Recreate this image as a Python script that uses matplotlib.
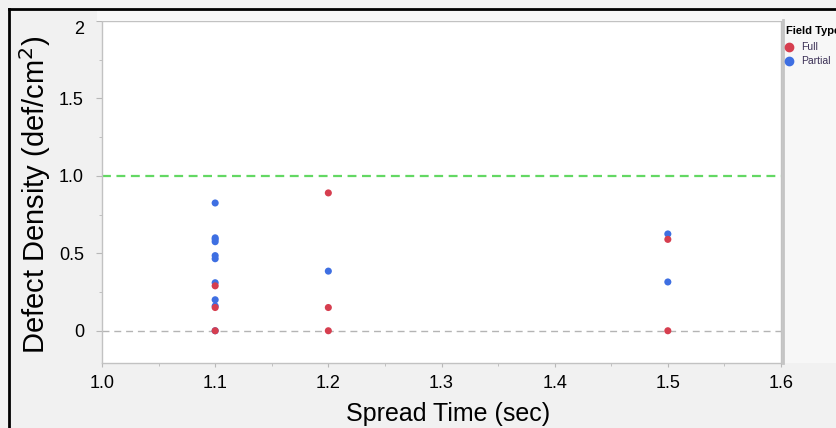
import numpy as np
import matplotlib.pyplot as plt
from matplotlib.patches import Rectangle
from matplotlib.lines import Line2D
from matplotlib.ticker import MultipleLocator

plt.rcParams['font.family'] = ['Liberation Sans', 'DejaVu Sans']

# dados
full_x = [1.1, 1.1, 1.1, 1.2, 1.2, 1.2, 1.5, 1.5]
full_y = [0.29, 0.15, 0.0, 0.89, 0.15, 0.0, 0.59, 0.0]
partial_x = [1.1, 1.1, 1.1, 1.1, 1.1, 1.1, 1.1, 1.1, 1.1, 1.1, 1.2, 1.5, 1.5]
partial_y = [0.825, 0.60, 0.59, 0.575, 0.485, 0.465, 0.31, 0.20, 0.16, 0.0, 0.385, 0.625, 0.315]
xticks = [1.0, 1.1, 1.2, 1.3, 1.4, 1.5, 1.6]
yticks = [0, 0.5, 1.0, 1.5, 2]
ytick_labels = ['0', '0.5', '1.0', '1.5', '2']

red = '#d63e4f'
blue = '#3e6fe2'

fig = plt.figure(figsize=(8.36, 4.28), dpi=100)
fig.patch.set_facecolor('#f1f1f1')

# faixa clara acima do grafico e painel da legenda
fig.patches.append(Rectangle((97/836, 1-21/428), 1, 11/428, transform=fig.transFigure,
                             facecolor='#f8f8f8', edgecolor='none', zorder=0))
fig.patches.append(Rectangle((783/836, 1-363/428), 1, 353/428, transform=fig.transFigure,
                             facecolor='#f7f7f7', edgecolor='none', zorder=0))
# bordas pretas
fig.lines.append(Line2D([9/836, 1], [1-9/428, 1-9/428], transform=fig.transFigure,
                        color='black', lw=2))
fig.lines.append(Line2D([9/836, 9/836], [0, 1-9/428], transform=fig.transFigure,
                        color='black', lw=2))
fig.lines.append(Line2D([783/836, 783/836], [1-363/428, 1-20/428], transform=fig.transFigure,
                        color='#c4c4c4', lw=2))

ax = fig.add_axes([102/836, 1-362.5/428, 679/836, 341.5/428])
ax.set_facecolor('white')

ax.axhline(1.0, color='#63d863', lw=1.6, ls=(0, (4, 2.5)), zorder=1)
ax.axhline(0.0, color='#b4b4b4', lw=1, ls=(0, (5, 3.5)), zorder=1)

ax.scatter(partial_x, partial_y, s=26, color=blue, edgecolors='none', zorder=3)
ax.scatter(full_x, full_y, s=26, color=red, edgecolors='none', zorder=4)

ax.set_xlim(1.0, 1.6)
ax.set_ylim(-0.205, 2.0)
ax.set_xticks(xticks)
ax.set_xticklabels([f'{v:.1f}' for v in xticks])
ax.xaxis.set_minor_locator(MultipleLocator(0.05))
ax.set_yticks(yticks)
ax.set_yticklabels(ytick_labels)
ax.yaxis.set_minor_locator(MultipleLocator(0.25))

for s in ax.spines.values():
    s.set_color('#c2c2c2')
    s.set_linewidth(1)

ax.tick_params(axis='x', which='major', length=3, color='#b8b8b8', labelsize=13, pad=6)
ax.tick_params(axis='x', which='minor', length=2, color='#b8b8b8')
ax.tick_params(axis='y', which='major', length=4, color='#b8b8b8', labelsize=13, pad=9)
ax.tick_params(axis='y', which='minor', length=2.2, color='#b8b8b8')
ax.get_yticklabels()[-1].set_va('top')

ax.set_xlabel('Spread Time (sec)', fontsize=18, labelpad=7)
ax.xaxis.label.set_x(0.51)
ax.set_ylabel('Defect Density (def/cm$^2$)', fontsize=21, labelpad=4)
ax.yaxis.label.set_y(0.49)

# legenda (estilo JMP)
fig.text(786/836, 1-31/428, 'Field Type', fontsize=8, fontweight='bold', va='center')
fig.lines.append(Line2D([789/836], [1-47/428], transform=fig.transFigure, marker='o',
                        ms=6, color=red, ls='none'))
fig.text(801/836, 1-47.5/428, 'Full', fontsize=7.5, color='#3a2f55', va='center')
fig.lines.append(Line2D([789/836], [1-61/428], transform=fig.transFigure, marker='o',
                        ms=6, color=blue, ls='none'))
fig.text(801/836, 1-61.5/428, 'Partial', fontsize=7.5, color='#3a2f55', va='center')

fig.savefig('out.png', dpi=100, facecolor=fig.get_facecolor())
